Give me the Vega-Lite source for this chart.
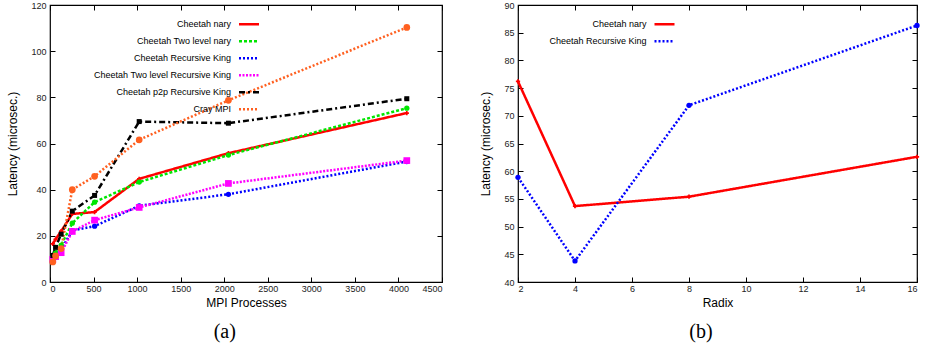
{
  "$schema": "https://vega.github.io/schema/vega-lite/v6.json",
  "padding": {"left": 6, "top": 0, "right": 2, "bottom": 2},
  "spacing": 35,
  "resolve": {"scale": {"color": "independent", "strokeDash": "independent"}, "legend": {"color": "independent", "strokeDash": "independent"}},
  "datasets": {
    "a": [
      {"series": "Cheetah nary", "procs": 32, "latency": 16.5},
      {"series": "Cheetah nary", "procs": 64, "latency": 18.5},
      {"series": "Cheetah nary", "procs": 128, "latency": 22},
      {"series": "Cheetah nary", "procs": 256, "latency": 29.5},
      {"series": "Cheetah nary", "procs": 512, "latency": 30.3},
      {"series": "Cheetah nary", "procs": 1024, "latency": 44.7},
      {"series": "Cheetah nary", "procs": 2048, "latency": 55.8},
      {"series": "Cheetah nary", "procs": 4096, "latency": 73.2},
      {"series": "Cheetah Two level nary", "procs": 32, "latency": 11},
      {"series": "Cheetah Two level nary", "procs": 64, "latency": 12.5},
      {"series": "Cheetah Two level nary", "procs": 128, "latency": 16},
      {"series": "Cheetah Two level nary", "procs": 256, "latency": 25.5},
      {"series": "Cheetah Two level nary", "procs": 512, "latency": 34.6},
      {"series": "Cheetah Two level nary", "procs": 1024, "latency": 43.3},
      {"series": "Cheetah Two level nary", "procs": 2048, "latency": 55.0},
      {"series": "Cheetah Two level nary", "procs": 4096, "latency": 75.3},
      {"series": "Cheetah Recursive King", "procs": 32, "latency": 10},
      {"series": "Cheetah Recursive King", "procs": 64, "latency": 11.5},
      {"series": "Cheetah Recursive King", "procs": 128, "latency": 14},
      {"series": "Cheetah Recursive King", "procs": 256, "latency": 22.3},
      {"series": "Cheetah Recursive King", "procs": 512, "latency": 24.2},
      {"series": "Cheetah Recursive King", "procs": 1024, "latency": 33.0},
      {"series": "Cheetah Recursive King", "procs": 2048, "latency": 38.0},
      {"series": "Cheetah Recursive King", "procs": 4096, "latency": 52.2},
      {"series": "Cheetah Two level Recursive King", "procs": 32, "latency": 9.8},
      {"series": "Cheetah Two level Recursive King", "procs": 64, "latency": 11},
      {"series": "Cheetah Two level Recursive King", "procs": 128, "latency": 12.7},
      {"series": "Cheetah Two level Recursive King", "procs": 256, "latency": 21.9},
      {"series": "Cheetah Two level Recursive King", "procs": 512, "latency": 26.8},
      {"series": "Cheetah Two level Recursive King", "procs": 1024, "latency": 32.3},
      {"series": "Cheetah Two level Recursive King", "procs": 2048, "latency": 42.7},
      {"series": "Cheetah Two level Recursive King", "procs": 4096, "latency": 52.6},
      {"series": "Cheetah p2p Recursive King", "procs": 32, "latency": 11.5},
      {"series": "Cheetah p2p Recursive King", "procs": 64, "latency": 15},
      {"series": "Cheetah p2p Recursive King", "procs": 128, "latency": 20.7},
      {"series": "Cheetah p2p Recursive King", "procs": 256, "latency": 30.7},
      {"series": "Cheetah p2p Recursive King", "procs": 512, "latency": 37.5},
      {"series": "Cheetah p2p Recursive King", "procs": 1024, "latency": 69.5},
      {"series": "Cheetah p2p Recursive King", "procs": 2048, "latency": 68.8},
      {"series": "Cheetah p2p Recursive King", "procs": 4096, "latency": 79.4},
      {"series": "Cray MPI", "procs": 32, "latency": 8.7},
      {"series": "Cray MPI", "procs": 64, "latency": 11.3},
      {"series": "Cray MPI", "procs": 128, "latency": 14.5},
      {"series": "Cray MPI", "procs": 256, "latency": 40},
      {"series": "Cray MPI", "procs": 512, "latency": 45.8},
      {"series": "Cray MPI", "procs": 1024, "latency": 61.6},
      {"series": "Cray MPI", "procs": 2048, "latency": 78.7},
      {"series": "Cray MPI", "procs": 4096, "latency": 110.3}
    ],
    "b": [
      {"series": "Cheetah nary", "radix": 2, "latency": 76.2},
      {"series": "Cheetah nary", "radix": 4, "latency": 53.7},
      {"series": "Cheetah nary", "radix": 8, "latency": 55.4},
      {"series": "Cheetah nary", "radix": 16, "latency": 62.6},
      {"series": "Cheetah Recursive King", "radix": 2, "latency": 58.9},
      {"series": "Cheetah Recursive King", "radix": 4, "latency": 43.8},
      {"series": "Cheetah Recursive King", "radix": 8, "latency": 71.9},
      {"series": "Cheetah Recursive King", "radix": 16, "latency": 86.3}
    ]
  },
  "hconcat": [
    {
      "width": 392,
      "height": 277,
      "data": {"name": "a"},
      "title": {"text": "(a)", "orient": "bottom", "anchor": "middle", "frame": "bounds", "font": "Liberation Serif", "fontSize": 20, "fontWeight": "normal", "color": "black", "offset": 14},
      "resolve": {"axis": {"x": "independent", "y": "independent"}},
      "layer": [
        {
          "mark": {"type": "line", "strokeWidth": 2.5},
          "encoding": {
            "x": {"field": "procs", "type": "quantitative", "scale": {"domain": [0, 4500], "nice": false}, "axis": {"orient": "bottom", "title": "MPI Processes", "labelPadding": 7, "values": [0, 500, 1000, 1500, 2000, 2500, 3000, 3500, 4000, 4500], "format": "d"}},
            "y": {"field": "latency", "type": "quantitative", "scale": {"domain": [0, 120], "nice": false}, "axis": {"orient": "left", "title": "Latency (microsec.)", "titlePadding": 11, "values": [0, 20, 40, 60, 80, 100, 120]}},
            "color": {"field": "series", "type": "nominal", "sort": null,
              "scale": {"domain": ["Cheetah nary", "Cheetah Two level nary", "Cheetah Recursive King", "Cheetah Two level Recursive King", "Cheetah p2p Recursive King", "Cray MPI"], "range": ["#ff0000", "#00e600", "#0000ff", "#ff00ff", "#000000", "#ff6020"]},
              "legend": {"legendX": 187.5, "legendY": 7.8, "columns": 1, "symbolSize": 400, "symbolType": "stroke"}},
            "strokeDash": {"field": "series", "type": "nominal", "sort": null,
              "scale": {"domain": ["Cheetah nary", "Cheetah Two level nary", "Cheetah Recursive King", "Cheetah Two level Recursive King", "Cheetah p2p Recursive King", "Cray MPI"], "range": [[1, 0], [3, 2], [2, 2], [2, 1.5], [6, 3, 2, 3], [2, 2]]},
              "legend": {"legendX": 187.5, "legendY": 7.8, "columns": 1, "symbolSize": 400, "symbolType": "stroke"}}
          }
        },
        {
          "transform": [{"filter": "datum.series === 'Cheetah nary'"}],
          "mark": {"type": "point", "filled": true, "opacity": 1, "shape": "cross", "size": 18, "color": "#ff0000"},
          "encoding": {
            "x": {"field": "procs", "type": "quantitative", "axis": {"orient": "top", "labels": false, "title": null, "values": [0, 500, 1000, 1500, 2000, 2500, 3000, 3500, 4000, 4500]}},
            "y": {"field": "latency", "type": "quantitative", "axis": {"orient": "right", "labels": false, "title": null, "values": [0, 20, 40, 60, 80, 100, 120]}}
          }
        },
        {
          "transform": [{"filter": "datum.series === 'Cheetah Two level nary'"}],
          "mark": {"type": "point", "filled": true, "opacity": 1, "shape": "circle", "size": 28, "color": "#00e600"},
          "encoding": {
            "x": {"field": "procs", "type": "quantitative", "axis": null},
            "y": {"field": "latency", "type": "quantitative", "axis": null}
          }
        },
        {
          "transform": [{"filter": "datum.series === 'Cheetah Recursive King'"}],
          "mark": {"type": "point", "filled": true, "opacity": 1, "shape": "circle", "size": 28, "color": "#0000ff"},
          "encoding": {
            "x": {"field": "procs", "type": "quantitative", "axis": null},
            "y": {"field": "latency", "type": "quantitative", "axis": null}
          }
        },
        {
          "transform": [{"filter": "datum.series === 'Cheetah Two level Recursive King'"}],
          "mark": {"type": "point", "filled": true, "opacity": 1, "shape": "square", "size": 45, "color": "#ff00ff"},
          "encoding": {
            "x": {"field": "procs", "type": "quantitative", "axis": null},
            "y": {"field": "latency", "type": "quantitative", "axis": null}
          }
        },
        {
          "transform": [{"filter": "datum.series === 'Cheetah p2p Recursive King'"}],
          "mark": {"type": "point", "filled": true, "opacity": 1, "shape": "square", "size": 25, "color": "#000000"},
          "encoding": {
            "x": {"field": "procs", "type": "quantitative", "axis": null},
            "y": {"field": "latency", "type": "quantitative", "axis": null}
          }
        },
        {
          "transform": [{"filter": "datum.series === 'Cray MPI'"}],
          "mark": {"type": "point", "filled": true, "opacity": 1, "shape": "circle", "size": 45, "color": "#ff6020"},
          "encoding": {
            "x": {"field": "procs", "type": "quantitative", "axis": null},
            "y": {"field": "latency", "type": "quantitative", "axis": null}
          }
        }
      ]
    },
    {
      "width": 399,
      "height": 277,
      "data": {"name": "b"},
      "title": {"text": "(b)", "orient": "bottom", "anchor": "middle", "frame": "bounds", "font": "Liberation Serif", "fontSize": 20, "fontWeight": "normal", "color": "black", "offset": 14},
      "resolve": {"axis": {"x": "independent", "y": "independent"}},
      "layer": [
        {
          "mark": {"type": "line", "strokeWidth": 2.5},
          "encoding": {
            "x": {"field": "radix", "type": "quantitative", "scale": {"domain": [2, 16], "nice": false, "zero": false}, "axis": {"orient": "bottom", "title": "Radix", "labelPadding": 7, "values": [2, 4, 6, 8, 10, 12, 14, 16]}},
            "y": {"field": "latency", "type": "quantitative", "scale": {"domain": [40, 90], "nice": false, "zero": false}, "axis": {"orient": "left", "title": "Latency (microsec.)", "titlePadding": 11, "values": [40, 45, 50, 55, 60, 65, 70, 75, 80, 85, 90]}},
            "color": {"field": "series", "type": "nominal", "sort": null,
              "scale": {"domain": ["Cheetah nary", "Cheetah Recursive King"], "range": ["#ff0000", "#0000ff"]},
              "legend": {"legendX": 135, "legendY": 7.8, "columns": 1, "symbolSize": 400, "symbolType": "stroke"}},
            "strokeDash": {"field": "series", "type": "nominal", "sort": null,
              "scale": {"domain": ["Cheetah nary", "Cheetah Recursive King"], "range": [[1, 0], [2, 2]]},
              "legend": {"legendX": 135, "legendY": 7.8, "columns": 1, "symbolSize": 400, "symbolType": "stroke"}}
          }
        },
        {
          "transform": [{"filter": "datum.series === 'Cheetah nary'"}],
          "mark": {"type": "point", "filled": true, "opacity": 1, "shape": "cross", "size": 18, "color": "#ff0000"},
          "encoding": {
            "x": {"field": "radix", "type": "quantitative", "axis": {"orient": "top", "labels": false, "title": null, "values": [2, 4, 6, 8, 10, 12, 14, 16]}},
            "y": {"field": "latency", "type": "quantitative", "axis": {"orient": "right", "labels": false, "title": null, "values": [40, 45, 50, 55, 60, 65, 70, 75, 80, 85, 90]}}
          }
        },
        {
          "transform": [{"filter": "datum.series === 'Cheetah Recursive King'"}],
          "mark": {"type": "point", "filled": true, "opacity": 1, "shape": "circle", "size": 28, "color": "#0000ff"},
          "encoding": {
            "x": {"field": "radix", "type": "quantitative", "axis": null},
            "y": {"field": "latency", "type": "quantitative", "axis": null}
          }
        }
      ]
    }
  ],
  "config": {
    "background": "white",
    "view": {"stroke": "black", "strokeWidth": 1.2},
    "axis": {
      "grid": false, "domain": false, "ticks": true, "tickColor": "black", "tickSize": -5, "tickWidth": 1,
      "labelPadding": 9, "labelFont": "Liberation Sans", "labelFontSize": 9, "labelColor": "#222",
      "titleFont": "Liberation Sans", "titleFontSize": 12, "titleFontWeight": "normal", "titleColor": "black", "titlePadding": 4
    },
    "legend": {
      "orient": "none", "title": null, "padding": 0, "labelFont": "Liberation Sans", "labelFontSize": 9, "labelColor": "black",
      "symbolType": "stroke", "symbolSize": 400, "symbolStrokeWidth": 2.5, "labelAlign": "right", "labelOffset": -29.5,
      "rowPadding": 0, "labelLimit": 300
    }
  }
}
